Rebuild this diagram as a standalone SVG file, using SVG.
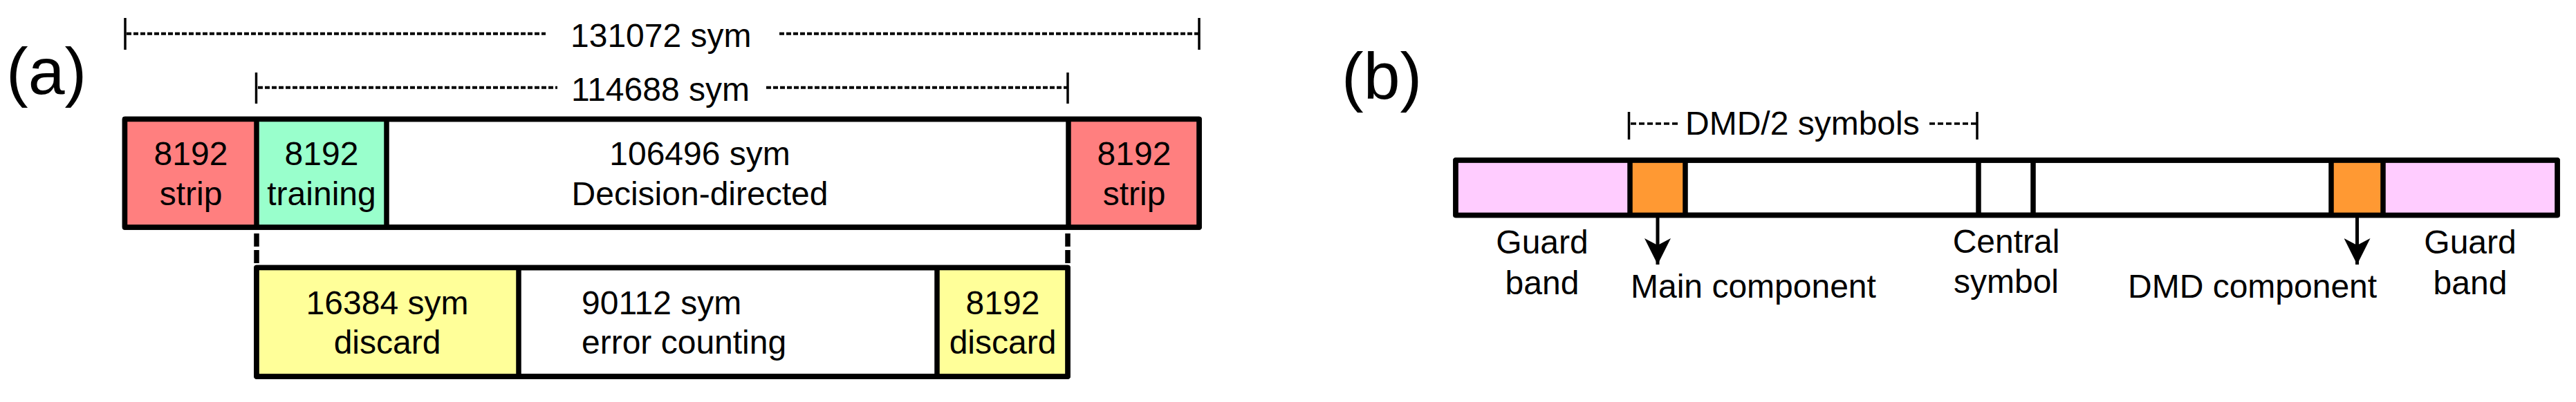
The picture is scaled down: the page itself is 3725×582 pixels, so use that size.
<svg xmlns="http://www.w3.org/2000/svg" width="3725" height="582" viewBox="0 0 3725 582">
<style>
.t{font-family:"Liberation Sans",Arial,sans-serif;font-size:48px;fill:#000}
.c{text-anchor:middle}
.lbl{font-family:"Liberation Sans",Arial,sans-serif;font-size:95px;fill:#000}
.box{stroke:#000;stroke-width:7.5;stroke-linejoin:round}
.div{stroke:#000;stroke-width:7.5}
.tick{stroke:#000;stroke-width:3.5}
.dash{stroke:#000;stroke-width:4;stroke-dasharray:7 3}
.dashb{stroke:#000;stroke-width:3.5;stroke-dasharray:8 4}
.vd{stroke:#000;stroke-width:7.5;stroke-dasharray:19 5}
.arr{stroke:#000;stroke-width:5;fill:none}
</style>
<defs>
<marker id="ah" viewBox="0 0 38 38" markerUnits="userSpaceOnUse" markerWidth="38" markerHeight="38" refX="38" refY="19" orient="auto">
<path d="M0,0 L38,19 L0,38 L10,19 Z" fill="#000"/>
</marker>
</defs>
<rect width="3725" height="582" fill="#fff"/>

<text class="lbl" x="9" y="136">(a)</text>
<text class="lbl" x="1940" y="143">(b)</text>

<g id="dim-131072">
<line class="tick" x1="181" y1="26" x2="181" y2="72"/>
<line class="dash" x1="183" y1="48.7" x2="789" y2="48.7"/>
<text class="t" x="825" y="68">131072 sym</text>
<line class="dash" x1="1127" y1="48.7" x2="1733" y2="48.7"/>
<line class="tick" x1="1734" y1="26" x2="1734" y2="72"/>
</g>

<g id="dim-114688">
<line class="tick" x1="370.5" y1="105" x2="370.5" y2="150"/>
<line class="dash" x1="373" y1="126.7" x2="806" y2="126.7"/>
<text class="t" x="826" y="146">114688 sym</text>
<line class="dash" x1="1108" y1="126.7" x2="1543" y2="126.7"/>
<line class="tick" x1="1544" y1="105" x2="1544" y2="150"/>
</g>

<g id="frame-a">
<rect class="box" x="180.5" y="172.5" width="1553.5" height="156.5" fill="#fff"/>
<g id="strip-left">
<rect x="184" y="176" width="187" height="149.5" fill="#FF7F7F"/>
<text class="t c" x="276" y="239">8192</text>
<text class="t c" x="276" y="297">strip</text>
</g>
<g id="training">
<rect x="371" y="176" width="188" height="149.5" fill="#99FFCC"/>
<text class="t c" x="465" y="239">8192</text>
<text class="t c" x="465" y="297">training</text>
</g>
<g id="decision-directed">
<text class="t c" x="1012" y="239">106496 sym</text>
<text class="t c" x="1012" y="297">Decision-directed</text>
</g>
<g id="strip-right">
<rect x="1545" y="176" width="185.5" height="149.5" fill="#FF7F7F"/>
<text class="t c" x="1640" y="239">8192</text>
<text class="t c" x="1640" y="297">strip</text>
</g>
<line class="div" x1="371" y1="172.5" x2="371" y2="329"/>
<line class="div" x1="559" y1="172.5" x2="559" y2="329"/>
<line class="div" x1="1545" y1="172.5" x2="1545" y2="329"/>
<rect class="box" x="180.5" y="172.5" width="1553.5" height="156.5" fill="none"/>
</g>

<g id="connectors">
<line class="vd" x1="371" y1="338" x2="371" y2="382"/>
<line class="vd" x1="1544" y1="338" x2="1544" y2="382"/>
<line class="arr" x1="2397" y1="315" x2="2397" y2="383" marker-end="url(#ah)"/>
<line class="arr" x1="3408.5" y1="315" x2="3408.5" y2="383" marker-end="url(#ah)"/>
</g>

<g id="frame-a-lower">
<rect class="box" x="371" y="387.5" width="1173" height="157.5" fill="#fff"/>
<g id="discard-16384">
<rect x="374.5" y="391" width="375.5" height="150.5" fill="#FFFF99"/>
<text class="t c" x="560" y="455">16384 sym</text>
<text class="t c" x="560" y="512">discard</text>
</g>
<g id="error-counting">
<text class="t" x="841" y="455">90112 sym</text>
<text class="t" x="841" y="512">error counting</text>
</g>
<g id="discard-8192">
<rect x="1355" y="391" width="185.5" height="150.5" fill="#FFFF99"/>
<text class="t c" x="1450" y="455">8192</text>
<text class="t c" x="1450" y="512">discard</text>
</g>
<line class="div" x1="750" y1="387.5" x2="750" y2="545"/>
<line class="div" x1="1355" y1="387.5" x2="1355" y2="545"/>
<rect class="box" x="371" y="387.5" width="1173" height="157.5" fill="none"/>
</g>

<g id="dim-dmd2">
<line class="tick" x1="2355.5" y1="162" x2="2355.5" y2="202"/>
<line class="dashb" x1="2358" y1="179" x2="2426" y2="179"/>
<text class="t" x="2437" y="195">DMD/2 symbols</text>
<line class="dashb" x1="2790" y1="179" x2="2858" y2="179"/>
<line class="tick" x1="2859" y1="162" x2="2859" y2="202"/>
</g>

<g id="frame-b">
<rect class="box" x="2105" y="232" width="1593" height="79.5" fill="#fff"/>
<rect id="guard-left" x="2108.5" y="235.5" width="248.5" height="72.5" fill="#FFCCFF"/>
<rect id="main-comp" x="2357" y="235.5" width="80" height="72.5" fill="#FF9933"/>
<rect id="dmd-comp" x="3371" y="235.5" width="75" height="72.5" fill="#FF9933"/>
<rect id="guard-right" x="3446" y="235.5" width="248.5" height="72.5" fill="#FFCCFF"/>
<line class="div" x1="2357" y1="232" x2="2357" y2="311.5"/>
<line class="div" x1="2437" y1="232" x2="2437" y2="311.5"/>
<line class="div" x1="2861" y1="232" x2="2861" y2="311.5"/>
<line class="div" x1="2940" y1="232" x2="2940" y2="311.5"/>
<line class="div" x1="3371" y1="232" x2="3371" y2="311.5"/>
<line class="div" x1="3446" y1="232" x2="3446" y2="311.5"/>
<rect class="box" x="2105" y="232" width="1593" height="79.5" fill="none"/>
</g>

<g id="label-guard-left">
<text class="t c" x="2230" y="367">Guard</text>
<text class="t c" x="2230" y="426">band</text>
</g>
<g id="label-main">
<text class="t" x="2358" y="431">Main component</text>
</g>
<g id="label-central">
<text class="t c" x="2901" y="366">Central</text>
<text class="t c" x="2901" y="424">symbol</text>
</g>
<g id="label-dmd">
<text class="t" x="3077" y="431">DMD component</text>
</g>
<g id="label-guard-right">
<text class="t c" x="3572" y="367">Guard</text>
<text class="t c" x="3572" y="426">band</text>
</g>
</svg>
